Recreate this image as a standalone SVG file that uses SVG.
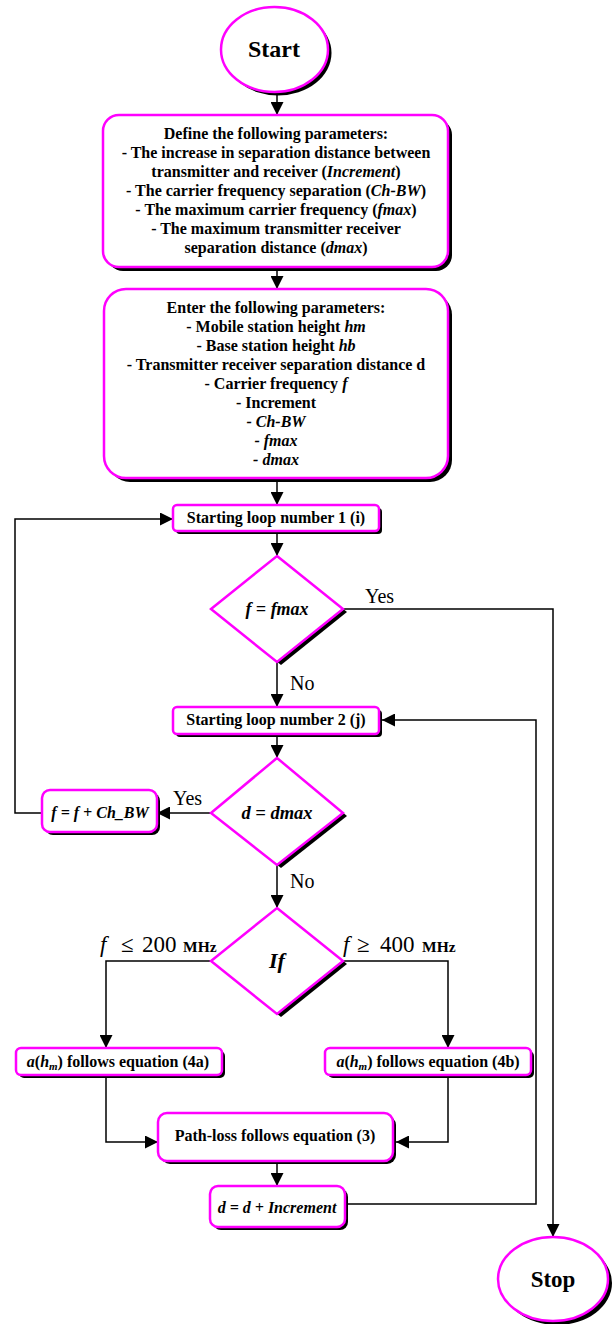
<svg xmlns="http://www.w3.org/2000/svg" width="615" height="1324" viewBox="0 0 615 1324">
<defs>
<marker id="arr" markerUnits="userSpaceOnUse" markerWidth="13" markerHeight="13" refX="13" refY="6.5" orient="auto">
<path d="M0,0 L13,6.5 L0,13 z" fill="#000"/>
</marker>
<style>
.sh{fill:#000;stroke:none}
.bx{fill:#fff;stroke:#ff00ff;stroke-width:2.5}
.t{font-family:"Liberation Serif","Times New Roman",serif;font-weight:bold;font-size:16px;fill:#000;text-anchor:middle}
.i{font-style:italic}
.sub{font-size:11px}
.lbl{font-family:"Liberation Serif","Times New Roman",serif;font-size:20px;fill:#000}
.c{fill:none;stroke:#000;stroke-width:1.5}
.ca{fill:none;stroke:#000;stroke-width:1.5;marker-end:url(#arr)}
</style>
</defs>
<rect width="615" height="1324" fill="#fff"/>

<g id="connectors">
<path class="ca" d="M277,92 L277,115"/>
<path class="ca" d="M277,271 L277,289"/>
<path class="ca" d="M277,482 L277,505"/>
<path class="ca" d="M277,534 L277,556"/>
<path class="ca" d="M277,662 L277,707"/>
<path class="ca" d="M343,609 L553,609 L553,1237"/>
<path class="ca" d="M277,737 L277,758"/>
<path class="ca" d="M211,813 L157,813"/>
<path class="ca" d="M42,813 L15,813 L15,519 L173,519"/>
<path class="ca" d="M277,865 L277,908"/>
<path class="ca" d="M211,961 L106,961 L106,1048"/>
<path class="ca" d="M343,961 L448,961 L448,1048"/>
<path class="ca" d="M106,1078 L106,1142 L158,1142"/>
<path class="ca" d="M448,1078 L448,1142 L396,1142"/>
<path class="ca" d="M277,1164 L277,1186"/>
<path class="ca" d="M348,1204 L536,1204 L536,720 L382,720"/>
<text class="lbl" x="365" y="603">Yes</text>
<text class="lbl" x="290" y="690">No</text>
<text class="lbl" x="173" y="805">Yes</text>
<text class="lbl" x="290" y="888">No</text>
<g font-family="Liberation Serif, Times New Roman, serif" fill="#000">
<text x="100" y="952" font-size="23" font-style="italic">f</text>
<text x="121" y="952" font-size="23">≤</text>
<text x="142" y="952" font-size="23">200</text>
<text x="183" y="952" font-size="15.5" font-weight="bold">MHz</text>
<text x="343" y="952" font-size="23" font-style="italic">f</text>
<text x="357" y="952" font-size="23">≥</text>
<text x="380" y="952" font-size="23">400</text>
<text x="422" y="952" font-size="15.5" font-weight="bold">MHz</text>
</g>
</g>

<g id="start">
<ellipse class="sh" cx="278" cy="53" rx="53.5" ry="42.5"/>
<ellipse class="bx" cx="274.5" cy="49.5" rx="53.5" ry="42.5"/>
<text class="t" x="274" y="57" style="font-size:24px">Start</text>
</g>

<g id="define">
<rect class="sh" x="107" y="119" width="345" height="152" rx="16"/>
<rect class="bx" x="103" y="115" width="345" height="152" rx="16"/>
<text class="t" x="276" y="139">Define the following parameters:</text>
<text class="t" x="276" y="158">- The increase in separation distance between</text>
<text class="t" x="276" y="177">transmitter and receiver (<tspan class="i">Increment</tspan>)</text>
<text class="t" x="276" y="196">- The carrier frequency separation (<tspan class="i">Ch-BW</tspan>)</text>
<text class="t" x="276" y="215">- The maximum carrier frequency (<tspan class="i">fmax</tspan>)</text>
<text class="t" x="276" y="234">- The maximum transmitter receiver</text>
<text class="t" x="276" y="253">separation distance (<tspan class="i">dmax</tspan>)</text>
</g>

<g id="enter">
<rect class="sh" x="108" y="293" width="344" height="189" rx="22"/>
<rect class="bx" x="104" y="289" width="344" height="189" rx="22"/>
<text class="t" x="276" y="313">Enter the following parameters:</text>
<text class="t" x="276" y="332">- Mobile station height <tspan class="i">hm</tspan></text>
<text class="t" x="276" y="351">- Base station height <tspan class="i">hb</tspan></text>
<text class="t" x="276" y="370">- Transmitter receiver separation distance d</text>
<text class="t" x="276" y="389">- Carrier frequency <tspan class="i">f</tspan></text>
<text class="t" x="276" y="408">- Increment</text>
<text class="t i" x="276" y="427">- Ch-BW</text>
<text class="t i" x="276" y="446">- fmax</text>
<text class="t i" x="276" y="465">- dmax</text>
</g>

<g id="loop1">
<rect class="sh" x="176" y="508" width="206" height="26" rx="4"/>
<rect class="bx" x="173" y="505" width="206" height="26" rx="4"/>
<text class="t" x="276" y="523">Starting loop number 1 (i)</text>
</g>

<g id="cond-fmax">
<polygon class="sh" points="281,559 347,612 281,665 215,612"/>
<polygon class="bx" points="277,556 343,609 277,662 211,609"/>
<text class="t i" x="277" y="615" style="font-size:18px">f = fmax</text>
</g>

<g id="loop2">
<rect class="sh" x="176" y="710" width="206" height="27" rx="4"/>
<rect class="bx" x="173" y="707" width="206" height="27" rx="4"/>
<text class="t" x="276" y="725">Starting loop number 2 (j)</text>
</g>

<g id="cond-dmax">
<polygon class="sh" points="281,761 347,816 281,868 215,816"/>
<polygon class="bx" points="277,758 343,813 277,865 211,813"/>
<text class="t i" x="277" y="819" style="font-size:18.5px">d = dmax</text>
</g>

<g id="f-inc">
<rect class="sh" x="45" y="793" width="115" height="42" rx="8"/>
<rect class="bx" x="42" y="790" width="115" height="42" rx="8"/>
<text class="t i" x="100" y="818">f = f + Ch_BW</text>
</g>

<g id="cond-if">
<polygon class="sh" points="281,911 347,964 281,1017 215,964"/>
<polygon class="bx" points="277,908 343,961 277,1014 211,961"/>
<text class="t i" x="277" y="968" style="font-size:22px">If</text>
</g>

<g id="eq4a">
<rect class="sh" x="19" y="1051" width="206" height="27" rx="5"/>
<rect class="bx" x="16" y="1048" width="206" height="27" rx="5"/>
<text class="t" x="118" y="1067"><tspan class="i">a</tspan>(<tspan class="i">h</tspan><tspan class="i sub" dy="3">m</tspan><tspan dy="-3">) follows equation (4a)</tspan></text>
</g>

<g id="eq4b">
<rect class="sh" x="328" y="1051" width="206" height="27" rx="5"/>
<rect class="bx" x="325" y="1048" width="206" height="27" rx="5"/>
<text class="t" x="428" y="1067"><tspan class="i">a</tspan>(<tspan class="i">h</tspan><tspan class="i sub" dy="3">m</tspan><tspan dy="-3">) follows equation (4b)</tspan></text>
</g>

<g id="pathloss">
<rect class="sh" x="161" y="1116" width="235" height="48" rx="9"/>
<rect class="bx" x="158" y="1113" width="235" height="48" rx="9"/>
<text class="t" x="275" y="1141">Path-loss follows equation (3)</text>
</g>

<g id="d-inc">
<rect class="sh" x="213" y="1189" width="135" height="41" rx="8"/>
<rect class="bx" x="210" y="1186" width="135" height="41" rx="8"/>
<text class="t i" x="277" y="1213">d = d + Increment</text>
</g>

<g id="stop">
<ellipse class="sh" cx="557" cy="1283" rx="55" ry="42"/>
<ellipse class="bx" cx="553" cy="1279" rx="55" ry="42"/>
<text class="t" x="553" y="1287" style="font-size:23px">Stop</text>
</g>
</svg>
